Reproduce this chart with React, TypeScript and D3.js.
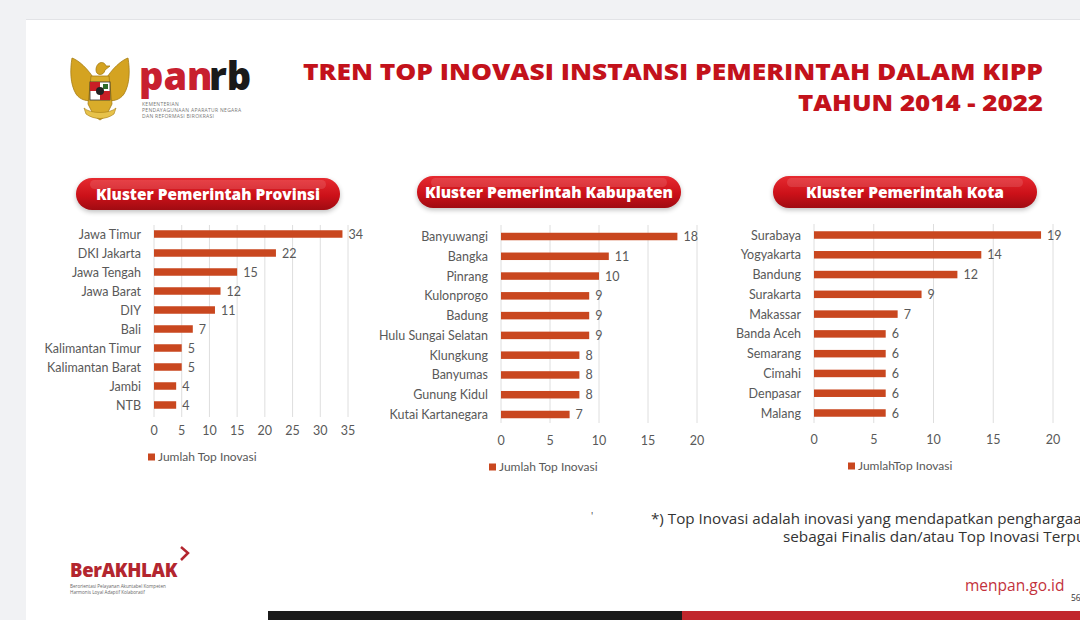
import React from 'react';
import * as d3 from 'd3';

const W = 1080;
const H = 620;

const provLabels = ['Jawa Timur', 'DKI Jakarta', 'Jawa Tengah', 'Jawa Barat', 'DIY', 'Bali', 'Kalimantan Timur', 'Kalimantan Barat', 'Jambi', 'NTB'];
const provValues = [34, 22, 15, 12, 11, 7, 5, 5, 4, 4];
const provTicks = [0, 5, 10, 15, 20, 25, 30, 35];

const kabLabels = ['Banyuwangi', 'Bangka', 'Pinrang', 'Kulonprogo', 'Badung', 'Hulu Sungai Selatan', 'Klungkung', 'Banyumas', 'Gunung Kidul', 'Kutai Kartanegara'];
const kabValues = [18, 11, 10, 9, 9, 9, 8, 8, 8, 7];
const kabTicks = [0, 5, 10, 15, 20];

const kotaLabels = ['Surabaya', 'Yogyakarta', 'Bandung', 'Surakarta', 'Makassar', 'Banda Aceh', 'Semarang', 'Cimahi', 'Denpasar', 'Malang'];
const kotaValues = [19, 14, 12, 9, 7, 6, 6, 6, 6, 6];
const kotaTicks = [0, 5, 10, 15, 20];

const BAR = '#c9471f';
const TXT = '#595959';
const RED = '#c3121b';
const FONT = 'Lato, "Open Sans", sans-serif';
const HEAD = '"Open Sans", Lato, sans-serif';

// layout of the three panels
const panels = [
  { title: 'Kluster Pemerintah Provinsi', labels: provLabels, values: provValues, ticks: provTicks,
    x0: 154, x1: 348, y0: 234, y1: 405, gridTop: 225, gridBottom: 417, tickY: 435, legendX: 148, legendY: 461,
    legend: 'Jumlah Top Inovasi', pill: { x: 76, y: 178, w: 264, h: 32, tw: 224 } },
  { title: 'Kluster Pemerintah Kabupaten', labels: kabLabels, values: kabValues, ticks: kabTicks,
    x0: 501, x1: 697, y0: 236.5, y1: 414.5, gridTop: 225, gridBottom: 423, tickY: 445, legendX: 489, legendY: 471,
    legend: 'Jumlah Top Inovasi', pill: { x: 417, y: 176, w: 264, h: 32, tw: 248 } },
  { title: 'Kluster Pemerintah Kota', labels: kotaLabels, values: kotaValues, ticks: kotaTicks,
    x0: 814, x1: 1053, y0: 235, y1: 413, gridTop: 224, gridBottom: 423, tickY: 444, legendX: 848, legendY: 470,
    legend: 'JumlahTop Inovasi', pill: { x: 773, y: 176, w: 264, h: 32, tw: 198 } },
];

function Panel({ p }: { p: any }) {
  const max = p.ticks[p.ticks.length - 1];
  const x = d3.scaleLinear().domain([0, max]).range([p.x0, p.x1]);
  const y = d3.scalePoint<string>().domain(p.labels).range([p.y0, p.y1]);
  const bh = 7.5;
  return (
    <g>
      <rect x={p.pill.x} y={p.pill.y + 2} width={p.pill.w} height={p.pill.h} rx={p.pill.h / 2} fill="#000" opacity={0.25} filter="url(#blur)" />
      <rect x={p.pill.x} y={p.pill.y} width={p.pill.w} height={p.pill.h} rx={p.pill.h / 2} fill="url(#pillGrad)" />
      <rect x={p.pill.x + 14} y={p.pill.y + 2} width={p.pill.w - 28} height={9} rx={4.5} fill="#fff" opacity={0.12} />
      <text x={p.pill.x + p.pill.w / 2} y={p.pill.y + p.pill.h / 2 + 5.5} textAnchor="middle" fill="#fff"
        fontFamily={HEAD} fontWeight={800} fontSize={15.5} textLength={p.pill.tw} lengthAdjust="spacingAndGlyphs">{p.title}</text>

      {p.ticks.map((t: number) => (
        <g key={t}>
          <line x1={x(t)} x2={x(t)} y1={p.gridTop} y2={p.gridBottom} stroke="#dedede" strokeWidth={1} />
          <text x={x(t)} y={p.tickY} textAnchor="middle" fill={TXT} fontFamily={FONT} fontSize={12.5}>{t}</text>
        </g>
      ))}

      {p.labels.map((l: string, i: number) => (
        <g key={l}>
          <rect x={x(0)} y={(y(l) as number) - bh / 2} width={x(p.values[i]) - x(0)} height={bh} fill={BAR} />
          <text x={x(0) - 13} y={(y(l) as number) + 4.5} textAnchor="end" fill={TXT} fontFamily={FONT} fontSize={12.5}>{l}</text>
          <text x={x(p.values[i]) + 6} y={(y(l) as number) + 4.5} fill={TXT} fontFamily={FONT} fontSize={12.5}>{p.values[i]}</text>
        </g>
      ))}

      <rect x={p.legendX} y={p.legendY - 7.5} width={7} height={7} fill={BAR} />
      <text x={p.legendX + 10} y={p.legendY} fill={TXT} fontFamily={FONT} fontSize={12}>{p.legend}</text>
    </g>
  );
}

function Garuda() {
  return (
    <g transform="translate(100,90)">
      {/* wings */}
      <path d="M-4,-8 C-12,-22 -22,-30 -28,-32 C-30,-20 -30,-6 -24,4 C-20,10 -12,12 -6,10 Z" fill="#d4a321" stroke="#a67c12" strokeWidth={0.8} />
      <path d="M4,-8 C12,-22 22,-30 28,-32 C30,-20 30,-6 24,4 C20,10 12,12 6,10 Z" fill="#d4a321" stroke="#a67c12" strokeWidth={0.8} />
      {/* head */}
      <path d="M-4,-20 C-4,-28 4,-30 6,-24 L10,-24 L5,-20 C4,-14 -4,-14 -4,-20 Z" fill="#d4a321" stroke="#a67c12" strokeWidth={0.8} />
      {/* body & tail */}
      <path d="M-9,-14 L9,-14 L12,14 L6,26 L0,30 L-6,26 L-12,14 Z" fill="#d9ac2a" stroke="#a67c12" strokeWidth={0.8} />
      <path d="M-16,18 C-10,24 10,24 16,18 L14,24 C6,30 -6,30 -14,24 Z" fill="#e7c24a" stroke="#a67c12" strokeWidth={0.6} />
      {/* shield */}
      <rect x={-10} y={-8} width={20} height={18} fill="#fff" stroke="#333" strokeWidth={0.8} />
      <rect x={-10} y={-8} width={10} height={9} fill="#c91f26" />
      <rect x={0} y={1} width={10} height={9} fill="#c91f26" />
      <circle cx={0} cy={1} r={4} fill="#222" />
      <rect x={3} y={-6} width={5} height={5} fill="#2d6b2d" />
    </g>
  );
}

export default function App() {
  return (
    <svg width={W} height={H} style={{ position: 'fixed', left: 0, top: 0 }}>
      <defs>
        <linearGradient id="pillGrad" x1="0" y1="0" x2="0" y2="1">
          <stop offset="0%" stopColor="#e62a30" />
          <stop offset="55%" stopColor="#cc1119" />
          <stop offset="100%" stopColor="#a00b12" />
        </linearGradient>
        <filter id="blur" x="-10%" y="-40%" width="120%" height="180%">
          <feGaussianBlur stdDeviation="2.5" />
        </filter>
      </defs>
      <rect width={W} height={H} fill="#f1f2f4" />
      <rect x={26} y={19} width={W - 26} height={H - 19} fill="#fff" />
      <line x1={26} x2={W} y1={19.5} y2={19.5} stroke="#e2e3e6" />

      {/* logo */}
      <Garuda />
      <text x={139} y={90} fontFamily={HEAD} fontWeight={800} fontSize={38} fill="#c8202f">pan</text>
      <text x={209} y={90} fontFamily={HEAD} fontWeight={800} fontSize={38} fill="#1a1a1a">rb</text>
      <g fontFamily={HEAD} fontSize={5} fill="#777" letterSpacing={0.3}>
        <text x={142} y={106}>KEMENTERIAN</text>
        <text x={142} y={112}>PENDAYAGUNAAN APARATUR NEGARA</text>
        <text x={142} y={118}>DAN REFORMASI BIROKRASI</text>
      </g>

      {/* title */}
      <g fontFamily={HEAD} fontWeight={800} fill={RED} fontSize={23.5} textAnchor="end">
        <text x={1043} y={80} textLength={740} lengthAdjust="spacingAndGlyphs">TREN TOP INOVASI INSTANSI PEMERINTAH DALAM KIPP</text>
        <text x={1043} y={111} textLength={245} lengthAdjust="spacingAndGlyphs">TAHUN 2014 - 2022</text>
      </g>

      {panels.map(p => <Panel key={p.title} p={p} />)}

      {/* footnote */}
      <text x={591} y={520} fill="#444" fontSize={10} fontFamily={HEAD}>'</text>
      <g fontFamily={HEAD} fontSize={14.5} fill="#333">
        <text x={651} y={524} textLength={440} lengthAdjust="spacingAndGlyphs">*) Top Inovasi adalah inovasi yang mendapatkan penghargaan</text>
        <text x={783} y={542} textLength={310} lengthAdjust="spacingAndGlyphs">sebagai Finalis dan/atau Top Inovasi Terpuji</text>
      </g>

      {/* BerAKHLAK */}
      <text x={70} y={577} fontFamily={HEAD} fontWeight={800} fontSize={18.5} fill="#b3262f" letterSpacing={-0.3}>BerAKHLAK</text>
      <path d="M181,547 L188,553 L181,560" fill="none" stroke="#b3262f" strokeWidth={2.5} />
      <g fontFamily={HEAD} fontSize={4.6} fill="#666">
        <text x={70} y={588}>Berorientasi Pelayanan Akuntabel Kompeten</text>
        <text x={70} y={594}>Harmonis Loyal Adaptif Kolaboratif</text>
      </g>

      <text x={965} y={591} fontFamily={HEAD} fontSize={15.5} fill="#c3323c">menpan.go.id</text>
      <text x={1071} y={601} fontFamily={HEAD} fontSize={8.5} fill="#333">56</text>

      {/* bottom stripe */}
      <rect x={268} y={611} width={414} height={9} fill="#1b1b1b" />
      <rect x={682} y={611} width={W - 682} height={9} fill="#c1272d" />
    </svg>
  );
}
